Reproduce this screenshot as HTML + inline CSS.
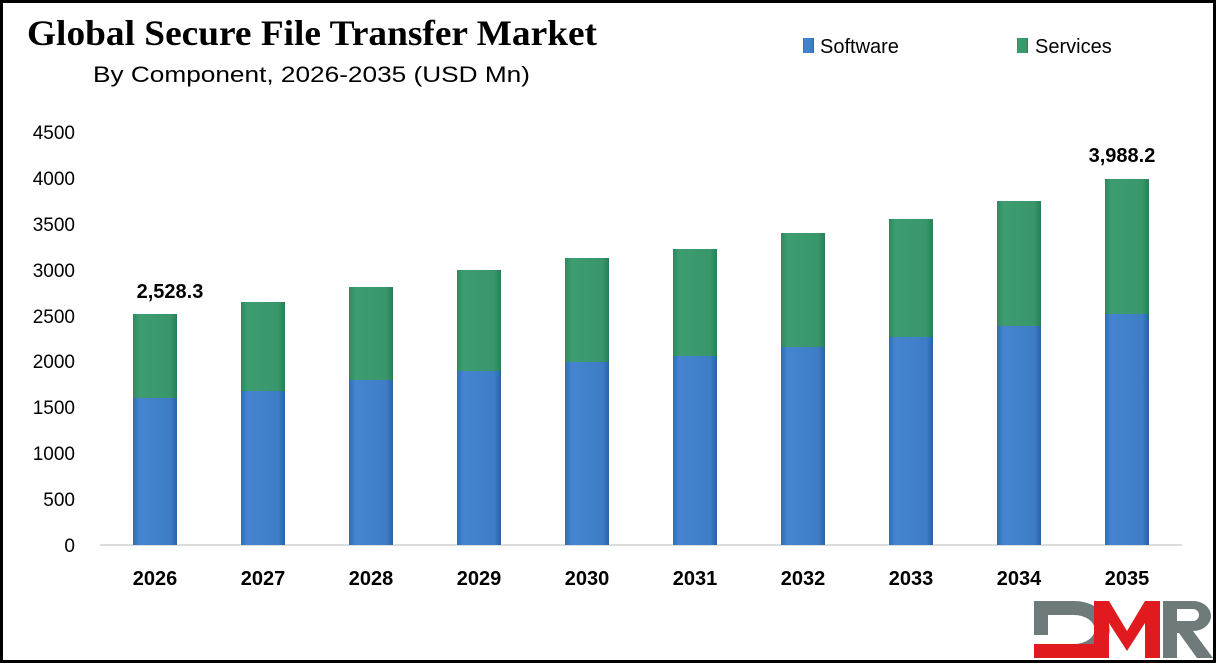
<!DOCTYPE html>
<html><head><meta charset="utf-8"><style>
html,body{margin:0;padding:0;background:#fff}
svg{display:block}
text{font-family:"Liberation Sans",sans-serif}
</style></head><body>
<svg width="1216" height="663" viewBox="0 0 1216 663" xmlns="http://www.w3.org/2000/svg">
<defs>
<linearGradient id="b" x1="0" x2="1"><stop offset="0" stop-color="#2f6cb5"/><stop offset="0.15" stop-color="#4585d0"/><stop offset="0.85" stop-color="#3e7cc6"/><stop offset="1" stop-color="#2a62a6"/></linearGradient>
<linearGradient id="g" x1="0" x2="1"><stop offset="0" stop-color="#2e8a5e"/><stop offset="0.15" stop-color="#3d9d70"/><stop offset="0.85" stop-color="#39966a"/><stop offset="1" stop-color="#2a7d55"/></linearGradient>
</defs>
<rect x="1.5" y="1.5" width="1213" height="660" fill="#fff" stroke="#000" stroke-width="3"/>
<text x="27" y="45" font-family="Liberation Serif" font-weight="bold" font-size="36" textLength="570" lengthAdjust="spacingAndGlyphs" style="font-family:'Liberation Serif',serif">Global Secure File Transfer Market</text>
<text x="93" y="82" font-size="22" textLength="437" lengthAdjust="spacingAndGlyphs">By Component, 2026-2035 (USD Mn)</text>
<rect x="803" y="38" width="11" height="15" fill="url(#b)"/>
<text x="820" y="53" font-size="20">Software</text>
<rect x="1017" y="38" width="11" height="15" fill="url(#g)"/>
<text x="1035" y="53" font-size="20">Services</text>
<g font-size="19" text-anchor="end">
<text x="75" y="139">4500</text><text x="75" y="185">4000</text><text x="75" y="231">3500</text>
<text x="75" y="277">3000</text><text x="75" y="323">2500</text><text x="75" y="368">2000</text>
<text x="75" y="414">1500</text><text x="75" y="460">1000</text><text x="75" y="506">500</text>
<text x="75" y="552">0</text>
</g>
<line x1="100" y1="545" x2="1182" y2="545" stroke="#d0d0d0" stroke-width="1.5"/>
<g id="bars">
<rect x="133" y="398" width="44" height="147" fill="url(#b)"/><rect x="133" y="314" width="44" height="84" fill="url(#g)"/>
<rect x="241" y="391" width="44" height="154" fill="url(#b)"/><rect x="241" y="302" width="44" height="89" fill="url(#g)"/>
<rect x="349" y="380" width="44" height="165" fill="url(#b)"/><rect x="349" y="287" width="44" height="93" fill="url(#g)"/>
<rect x="457" y="371" width="44" height="174" fill="url(#b)"/><rect x="457" y="270" width="44" height="101" fill="url(#g)"/>
<rect x="565" y="362" width="44" height="183" fill="url(#b)"/><rect x="565" y="258" width="44" height="104" fill="url(#g)"/>
<rect x="673" y="356" width="44" height="189" fill="url(#b)"/><rect x="673" y="249" width="44" height="107" fill="url(#g)"/>
<rect x="781" y="347" width="44" height="198" fill="url(#b)"/><rect x="781" y="233" width="44" height="114" fill="url(#g)"/>
<rect x="889" y="337" width="44" height="208" fill="url(#b)"/><rect x="889" y="219" width="44" height="118" fill="url(#g)"/>
<rect x="997" y="326" width="44" height="219" fill="url(#b)"/><rect x="997" y="201" width="44" height="125" fill="url(#g)"/>
<rect x="1105" y="314" width="44" height="231" fill="url(#b)"/><rect x="1105" y="179" width="44" height="135" fill="url(#g)"/>
</g>
<g font-size="20" font-weight="bold" text-anchor="middle">
<text x="170" y="298">2,528.3</text>
<text x="1122" y="162">3,988.2</text>
<text x="155" y="585">2026</text><text x="263" y="585">2027</text><text x="371" y="585">2028</text>
<text x="479" y="585">2029</text><text x="587" y="585">2030</text><text x="695" y="585">2031</text>
<text x="803" y="585">2032</text><text x="911" y="585">2033</text><text x="1019" y="585">2034</text>
<text x="1127" y="585">2035</text>
</g>
<!-- DMR logo -->
<path d="M1034 601 h40 a35 28 0 0 1 0 57 h-40 v-14 h40 a20 14 0 0 0 0 -29 h-26 v20 h-14z" fill="#6f7a7a"/>
<path d="M1034 658 v-14 h60 v14z" fill="#e01a1f"/>
<path d="M1094 658 v-57 h15 l18 30 l18 -30 h15 v57 h-15 v-35 l-18 28 l-18 -28 v35z" fill="#e01a1f"/>
<path d="M1163 601 h30 a18 15 0 0 1 0 30 l20 27 h-16 l-18 -25 h-3 v-12 h17 a6 6 0 0 0 0 -12 h-16 v49 h-14z" fill="#6f7a7a"/>
</svg>
</body></html>
